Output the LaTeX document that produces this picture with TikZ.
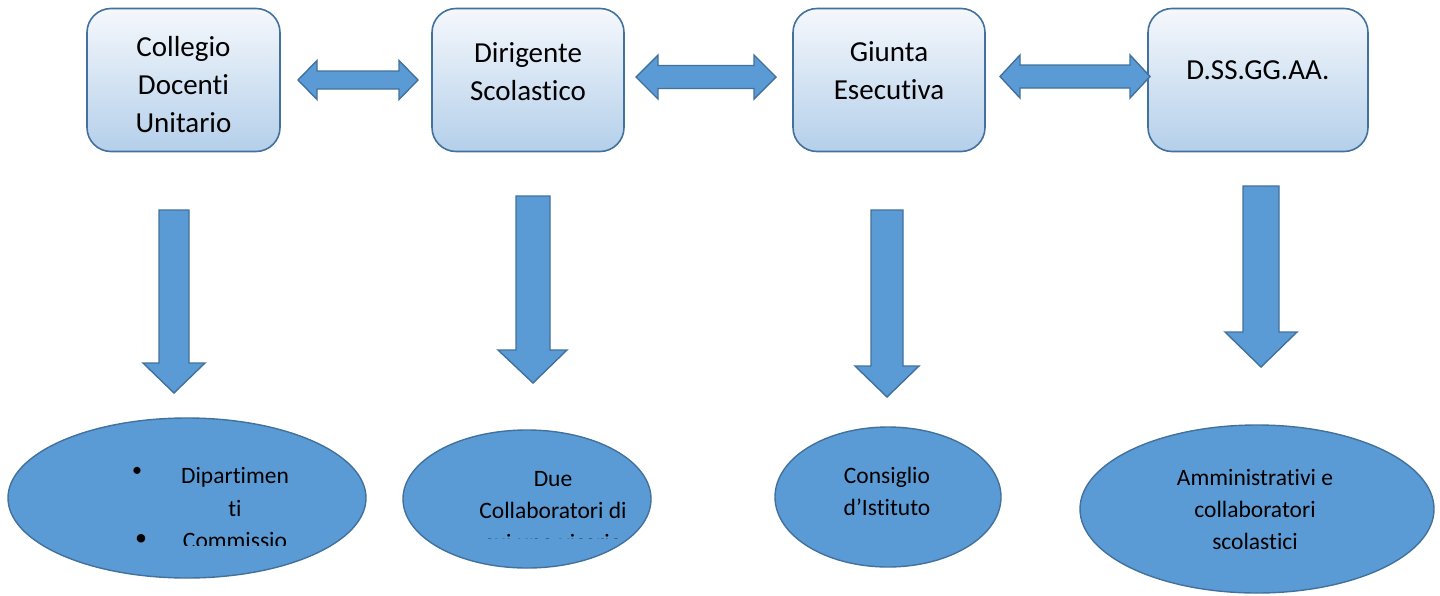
\documentclass[tikz,border=0pt]{standalone}
\usepackage{fontspec}
\setmainfont[Ligatures=NoCommon]{Carlito}
\usetikzlibrary{shapes.geometric}
\definecolor{bfill}{HTML}{5B9BD5}
\definecolor{bline}{HTML}{41719C}
\definecolor{btop}{HTML}{F5F8FC}
\definecolor{bbot}{HTML}{B4CFEA}
\tikzset{
  boxnode/.style={rounded corners=24pt, draw=bline, line width=1.6pt, top color=btop, bottom color=bbot, minimum width=#1, minimum height=143pt, inner sep=0pt},
  boxtext/.style={font=\fontsize{29}{38}\selectfont, align=center, inner sep=0pt},
  ellnode/.style={ellipse, draw=bline, line width=1.4pt, fill=bfill, inner sep=0pt},
  elltext/.style={font=\fontsize{23.5}{32}\selectfont, align=center, inner sep=0pt},
  bullettext/.style={font=\fontsize{20}{20}\selectfont, inner sep=0pt},
  blockarrow/.style={draw=bline, line width=1.4pt, fill=bfill, line join=miter},
}
\newcommand\hdarrow[6]{%
  \draw[blockarrow] (#1,#3) -- (#1+#6,#3-#5) -- (#1+#6,#3-#4) -- (#2-#6,#3-#4) -- (#2-#6,#3-#5) -- (#2,#3) -- (#2-#6,#3+#5) -- (#2-#6,#3+#4) -- (#1+#6,#3+#4) -- (#1+#6,#3+#5) -- cycle;}
\newcommand\vdarrow[8]{%
  \draw[blockarrow] (#1,#3) -- (#2,#3) -- (#2,#4) -- (#6,#4) -- (#8,#7) -- (#5,#4) -- (#1,#4) -- cycle;}
\begin{document}
\begin{tikzpicture}[x=1pt,y=-1pt]
\useasboundingbox (0,0) rectangle (1440,595);
% top boxes
\node[boxnode=193pt] (b1) at (183.5,80) {};
\node[boxnode=192pt] (b2) at (528,80) {};
\node[boxnode=192pt] (b3) at (889,80) {};
\node[boxnode=220pt] (b4) at (1258,80) {};
\node[boxtext] (t1) at (183.5,85) {Collegio\\Docenti\\Unitario};
\node[boxtext] (t2) at (528,71.5) {Dirigente\\Scolastico};
\node[boxtext] (t3) at (889,71) {Giunta\\Esecutiva};
\node[boxtext] (t4) at (1258,70) {D.SS.GG.AA.};
% double arrows
\hdarrow{298}{418}{80}{9}{19.5}{19}
\hdarrow{636}{776}{77}{11.5}{22}{22}
\hdarrow{1000}{1150}{76.5}{11.5}{21.5}{20}
% down arrows
\vdarrow{159}{189}{210}{363}{143}{205}{393}{174}
\vdarrow{516}{550}{196}{350}{498}{567}{383}{533}
\vdarrow{871}{903}{210}{366}{855}{919}{397}{887}
\vdarrow{1243}{1279}{186}{332}{1225}{1297}{367}{1261}
% ellipses
\node[ellnode, minimum width=358pt, minimum height=160pt] (e1) at (187,498) {};
\node[ellnode, minimum width=248pt, minimum height=138pt] (e2) at (527,499) {};
\node[ellnode, minimum width=226pt, minimum height=140pt] (e3) at (888,497) {};
\node[ellnode, minimum width=354pt, minimum height=168pt] (e4) at (1257,509) {};
\begin{scope}
  \clip (100,440) rectangle (330,545);
  \node[elltext, font=\fontsize{23.5}{32.5}\selectfont] (l1) at (235,508) {Dipartimen\\ti\\Commissio};
\end{scope}
\node[bullettext] (p1) at (137,472) {•};
\node[bullettext, font=\fontsize{24}{24}\selectfont] (p2) at (141,540) {•};
\begin{scope}
  \clip (430,450) rectangle (640,538);
  \node[elltext] (l2) at (553,511) {Due\\Collaboratori di\\cui uno vicario};
\end{scope}
\node[elltext] (l3) at (887,491) {Consiglio\\d’Istituto};
\node[elltext] (l4) at (1255,509) {Amministrativi e\\collaboratori\\scolastici};
\end{tikzpicture}
\end{document}
